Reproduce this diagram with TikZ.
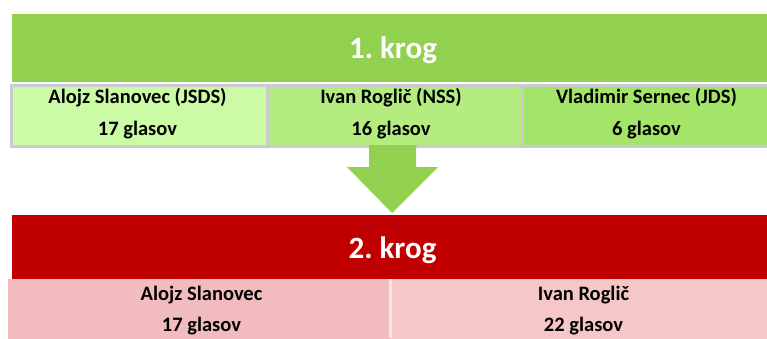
\documentclass[tikz,border=0pt]{standalone}
\usepackage{fontspec}
\setmainfont{Carlito}
\usetikzlibrary{calc}
\definecolor{topgreen}{HTML}{92D050}
\definecolor{cellA}{HTML}{CCFBA6}
\definecolor{cellB}{HTML}{B4EC80}
\definecolor{cellC}{HTML}{A4E468}
\definecolor{gridgray}{HTML}{C9CBD0}
\definecolor{topred}{HTML}{C00000}
\definecolor{pinkA}{HTML}{F2BCBE}
\definecolor{pinkB}{HTML}{F6C7C7}
\tikzset{
  bar/.style={anchor=north west, inner sep=0pt, draw=none},
  cell/.style={anchor=north west, inner sep=0pt, draw=gridgray, line width=3pt},
  pcell/.style={anchor=north west, inner sep=0pt, draw=none},
  title/.style={anchor=base, inner sep=0pt, text=white, font=\bfseries\fontsize{31}{34}\selectfont},
  lbl/.style={anchor=base, inner sep=0pt, font=\bfseries\fontsize{20.5}{23}\selectfont},
}
\begin{document}
\begin{tikzpicture}[x=1pt,y=-1pt]
\useasboundingbox (0,0) rectangle (767,338);
% top bar
\node[bar, fill=topgreen, minimum width=755pt, minimum height=68pt] (r1) at (12,14) {};
\node[title] (t1) at (393,58) {1.~krog};
% row 1 cells
\node[cell, fill=cellA, minimum width=257pt, minimum height=61pt] (c1) at (9.5,83.5) {};
\node[cell, fill=cellB, minimum width=255pt, minimum height=61pt] (c2) at (265.5,83.5) {};
\node[cell, fill=cellC, minimum width=250pt, minimum height=61pt] (c3) at (520.5,83.5) {};
\node[lbl] (c1a) at (137.5,103.5) {Alojz Slanovec (JSDS)};
\node[lbl] (c1b) at (137.5,135) {17 glasov};
\node[lbl] (c2a) at (391,103.5) {Ivan Roglič (NSS)};
\node[lbl] (c2b) at (391,135) {16 glasov};
\node[lbl] (c3a) at (646.5,103.5) {Vladimir Sernec (JDS)};
\node[lbl] (c3b) at (646.5,135) {6 glasov};
% second bar
\node[bar, fill=topred, minimum width=755pt, minimum height=64pt] (r2) at (12,215) {};
\node[title] (t2) at (392.5,258) {2.~krog};
% arrow
\fill[topgreen] (369,145) -- (416,145) -- (416,167) -- (438,167) -- (392,213) -- (347,167) -- (369,167) -- cycle;
% row 2 cells
\node[pcell, fill=pinkA, minimum width=383pt, minimum height=60pt] (d1) at (8,279) {};
\node[pcell, fill=pinkB, minimum width=376pt, minimum height=60pt] (d2) at (391,279) {};
\fill[white!60!pinkA] (389,279) rectangle (392,338);
\node[lbl] (d1a) at (201.5,300) {Alojz Slanovec};
\node[lbl] (d1b) at (201.5,331.5) {17 glasov};
\node[lbl] (d2a) at (583.5,300) {Ivan Roglič};
\node[lbl] (d2b) at (583.5,331.5) {22 glasov};
\end{tikzpicture}
\end{document}
